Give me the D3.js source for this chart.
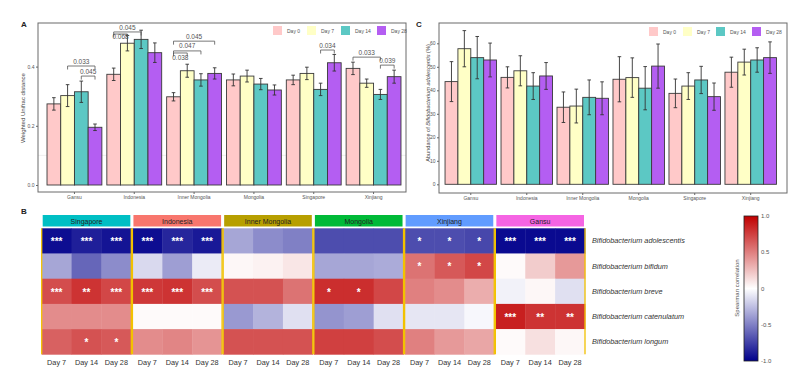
<!DOCTYPE html>
<html><head><meta charset="utf-8">
<script src="https://cdn.jsdelivr.net/npm/d3@7"></script>
<style>
html,body{margin:0;padding:0;background:#fff;}
svg{display:block;font-family:"Liberation Sans",Arial,sans-serif;}
</style></head>
<body><svg id="c" width="802" height="383"></svg>
<script>
// ---------- DATA ----------
const groups = ["Gansu","Indonesia","Inner Mongolia","Mongolia","Singapore","Xinjiang"];
const days = ["Day 0","Day 7","Day 14","Day 28"];
const dayColors = ["#FFC9C9","#FFFFC6","#5CC8C4","#B45EF2"];

// Panel A: weighted UniFrac distance (mean, error) per group x day
const unifracMean = [
  [0.274,0.302,0.315,0.195],
  [0.374,0.479,0.492,0.447],
  [0.298,0.386,0.355,0.377],
  [0.355,0.368,0.341,0.321],
  [0.355,0.377,0.323,0.413],
  [0.394,0.344,0.306,0.366]
];
const unifracErr = [
  [0.021,0.037,0.036,0.011],
  [0.021,0.026,0.031,0.033],
  [0.014,0.022,0.021,0.019],
  [0.020,0.020,0.019,0.017],
  [0.016,0.021,0.021,0.028],
  [0.021,0.014,0.017,0.022]
];
const yTicksA = [0.0,0.2,0.4];

// significance brackets: group, day from, day to, bracket height, label height, p label
const brGroup = ["Gansu","Gansu","Indonesia","Indonesia","Inner Mongolia","Inner Mongolia","Inner Mongolia","Singapore","Xinjiang","Xinjiang"];
const brFrom  = ["Day 7","Day 14","Day 0","Day 0","Day 0","Day 0","Day 0","Day 14","Day 0","Day 14"];
const brTo    = ["Day 28","Day 28","Day 14","Day 7","Day 28","Day 14","Day 7","Day 28","Day 14","Day 28"];
const brY     = [0.402,0.368,0.517,0.510,0.486,0.453,0.446,0.456,0.432,0.405];
const brLabY  = [0.416,0.383,0.532,0.502,0.502,0.470,0.432,0.471,0.449,0.419];
const brLabel = ["0.033","0.045","0.045","0.068","0.045","0.047","0.038","0.034","0.033","0.039"];

// Panel C: abundance of B. adolescentis (%)
const abundMean = [
  [43.7,57.7,53.9,52.9],
  [45.5,48.3,41.8,46.1],
  [32.8,33.3,37.0,36.6],
  [44.7,45.4,40.9,50.3],
  [38.7,41.8,44.4,37.3],
  [47.7,52.0,52.9,53.9]
];
const abundErr = [
  [8.5,7.7,9.0,7.2],
  [4.5,6.4,5.7,5.7],
  [6.5,7.2,7.4,7.0],
  [9.6,8.4,9.2,9.4],
  [6.1,5.7,5.8,5.8],
  [6.4,5.5,5.2,6.7]
];
const yTicksC = [0,10,20,30,40,50,60];

// Panel B: Spearman correlation heatmap
const facets = ["Singapore","Indonesia","Inner Mongolia","Mongolia","Xinjiang","Gansu"];
const facetColors = ["#00BFC4","#F8766D","#B79F00","#00BA38","#619CFF","#F564E3"];
const heatDays = ["Day 7","Day 14","Day 28"];
const species = ["Bifidobacterium adolescentis","Bifidobacterium bifidum","Bifidobacterium breve","Bifidobacterium catenulatum","Bifidobacterium longum"];
// rows = species, columns = facet x day (18)
const corr = [
  [-0.95,-0.88,-0.92, -0.95,-0.85,-0.90, -0.35,-0.45,-0.50, -0.70,-0.70,-0.70, -0.70,-0.70,-0.72, -0.96,-0.96,-0.96],
  [-0.35,-0.60,-0.45, -0.15,-0.38,-0.08,  0.03, 0.05, 0.10, -0.35,-0.35,-0.33,  0.55, 0.65, 0.72,  0.02, 0.20, 0.40],
  [ 0.70, 0.80, 0.72,  0.78, 0.80, 0.70,  0.68, 0.68, 0.55,  0.82, 0.82, 0.72,  0.50, 0.45, 0.32, -0.05, 0.03,-0.12],
  [ 0.45, 0.45, 0.45,  0.02, 0.02, 0.02, -0.40,-0.30,-0.12, -0.42,-0.38,-0.12, -0.10,-0.10,-0.03,  0.88, 0.80, 0.80],
  [ 0.62, 0.68, 0.65,  0.45, 0.48, 0.42,  0.68, 0.68, 0.68,  0.75, 0.75, 0.70,  0.50, 0.40, 0.35,  0.02, 0.12, 0.03]
];
const stars = [
  ["***","***","***", "***","***","***", "","","", "","","", "*","*","*", "***","***","***"],
  ["","","", "","","", "","","", "","","", "*","*","*", "","",""],
  ["***","**","***", "***","***","***", "","","", "*","*","", "","","", "","",""],
  ["","","", "","","", "","","", "","","", "","","", "***","**","**"],
  ["","*","*", "","","", "","","", "","","", "","","", "","",""]
];
const cbTicks = [1,0.5,0,-0.5,-1];
const cbLabels = ["1.0","0.5","0","-0.5","-1.0"];

// ---------- DRAW ----------
const svg = d3.select("#c");
const txtCol = "#555";

function barPanel(opt){
  const g = svg.append("g");
  const x = d3.scaleBand().domain(groups).range(opt.xr).paddingInner(opt.pi).paddingOuter(opt.po);
  const xd = d3.scaleBand().domain(days).range([0, x.bandwidth()]);
  const y = d3.scaleLinear().domain(opt.yd).range(opt.yr);
  // gridline
  if (opt.grid) opt.grid.forEach(v => g.append("line").attr("x1",opt.box[0]).attr("x2",opt.box[0]+opt.box[2])
      .attr("y1",y(v)).attr("y2",y(v)).attr("stroke","#e4e4e4").attr("stroke-width",0.6));
  const recs = [];
  groups.forEach((gr,i)=>days.forEach((d,j)=>recs.push({gr,d,j,m:opt.mean[i][j],e:opt.err[i][j]})));
  g.selectAll("rect.bar").data(recs).join("rect").attr("class","bar")
    .attr("x",r=>x(r.gr)+xd(r.d)).attr("width",xd.bandwidth())
    .attr("y",r=>y(r.m)).attr("height",r=>y(0)-y(r.m))
    .attr("fill",r=>dayColors[r.j]).attr("stroke","#3a3a3a").attr("stroke-width",0.9);
  const eb = g.selectAll("g.eb").data(recs).join("g").attr("class","eb")
    .attr("transform",r=>`translate(${x(r.gr)+xd(r.d)+xd.bandwidth()/2},0)`);
  eb.append("line").attr("y1",r=>y(r.m-r.e)).attr("y2",r=>y(r.m+r.e)).attr("stroke","#333").attr("stroke-width",0.9);
  eb.append("line").attr("x1",-1.8).attr("x2",1.8).attr("y1",r=>y(r.m+r.e)).attr("y2",r=>y(r.m+r.e)).attr("stroke","#333").attr("stroke-width",0.9);
  eb.append("line").attr("x1",-1.8).attr("x2",1.8).attr("y1",r=>y(r.m-r.e)).attr("y2",r=>y(r.m-r.e)).attr("stroke","#333").attr("stroke-width",0.9);
  // box
  const [bx,by,bw,bh] = opt.box;
  g.append("rect").attr("x",bx).attr("y",by).attr("width",bw).attr("height",bh)
    .attr("fill","none").attr("stroke","#6a6a6a").attr("stroke-width",1);
  // axes
  const ay = g.append("g").attr("transform",`translate(${bx},0)`)
    .call(d3.axisLeft(y).tickValues(opt.ticks).tickFormat(opt.fmt).tickSize(2).tickPadding(1.5));
  ay.select(".domain").remove();
  ay.selectAll("line").attr("stroke","#666");
  ay.selectAll("text").attr("font-size",5).attr("fill",txtCol).attr("font-family","Liberation Sans, Arial");
  const ax = g.append("g").attr("transform",`translate(0,${by+bh})`)
    .call(d3.axisBottom(x).tickSize(2).tickPadding(1.5));
  ax.select(".domain").remove();
  ax.selectAll("line").attr("stroke","#666");
  ax.selectAll("text").attr("font-size",5).attr("fill",txtCol).attr("font-family","Liberation Sans, Arial");
  // legend
  days.forEach((d,j)=>{
    const lx = opt.legX[j];
    g.append("rect").attr("x",lx).attr("y",opt.legY).attr("width",9).attr("height",9).attr("fill",dayColors[j]);
    g.append("text").attr("x",lx+14).attr("y",opt.legY+4.5).attr("dominant-baseline","central")
      .attr("font-size",5).attr("fill",txtCol).text(d);
  });
  return {x,xd,y,g};
}

// Panel A
const A = barPanel({xr:[44.5,403.5],pi:0.083,po:0.042,yd:[0,0.4],yr:[185,66.6],grid:[0.1],
  mean:unifracMean,err:unifracErr,box:[38,23,368,169],ticks:yTicksA,fmt:d3.format(".1f"),
  legX:[273,307,341,377],legY:26});
brGroup.forEach((gr,i)=>{
  const x1 = A.x(gr)+A.xd(brFrom[i])+A.xd.bandwidth()/2;
  const x2 = A.x(gr)+A.xd(brTo[i])+A.xd.bandwidth()/2;
  const yl = A.y(brY[i]);
  A.g.append("path").attr("d",`M${x1},${yl+3.5}V${yl}H${x2}V${yl+3.5}`)
    .attr("fill","none").attr("stroke","#555").attr("stroke-width",0.8);
  A.g.append("text").attr("x",(x1+x2)/2).attr("y",A.y(brLabY[i])).attr("dominant-baseline","central")
    .attr("text-anchor","middle").attr("font-size",6.5).attr("fill","#555").text(brLabel[i]);
});
svg.append("text").attr("x",23).attr("y",108).attr("transform","rotate(-90,23,108)")
  .attr("text-anchor","middle").attr("dominant-baseline","central").attr("font-size",6).attr("fill","#444")
  .text("Weighted Unifrac distance");
svg.append("text").attr("x",21).attr("y",27).attr("font-size",8).attr("font-weight","bold").attr("fill","#222").text("A");

// Panel C
const C = barPanel({xr:[442.8,778.7],pi:0.08,po:0.04,yd:[0,60],yr:[184.3,43.3],grid:null,
  mean:abundMean,err:abundErr,box:[439,23,348,170],ticks:yTicksC,fmt:d3.format("d"),
  legX:[649,683,716,752],legY:27});
const yt = svg.append("text").attr("x",428).attr("y",103).attr("transform","rotate(-90,428,103)")
  .attr("text-anchor","middle").attr("dominant-baseline","central").attr("font-size",5.6).attr("fill","#444");
yt.append("tspan").text("Abundance of ");
yt.append("tspan").attr("font-style","italic").text("Bifidobacterium adolescentis");
yt.append("tspan").text(" (%)");
svg.append("text").attr("x",416).attr("y",27).attr("font-size",8).attr("font-weight","bold").attr("fill","#222").text("C");

// Panel B heatmap
svg.append("text").attr("x",21).attr("y",214).attr("font-size",8).attr("font-weight","bold").attr("fill","#222").text("B");
const fx = d3.scaleBand().domain(facets).range([41.7,585]).paddingInner(0.012);
const cx = d3.scaleBand().domain(heatDays).range([0,fx.bandwidth()]);
const ry = d3.scaleBand().domain(species).range([228.3,354.3]);
const col = d3.scaleLinear().domain([-1,0,1]).range(["#00008B","#FFFFFF","#C00000"]).interpolate(d3.interpolateRgb);
const hb = svg.append("g");
const cells = [];
species.forEach((s,i)=>facets.forEach((f,k)=>heatDays.forEach((d,j)=>
  cells.push({s,f,d,k,v:corr[i][k*3+j],st:stars[i][k*3+j]}))));
hb.selectAll("rect.cell").data(cells).join("rect").attr("class","cell")
  .attr("x",c=>fx(c.f)+cx(c.d)).attr("y",c=>ry(c.s)).attr("width",cx.bandwidth()+0.4).attr("height",ry.bandwidth()+0.4)
  .attr("fill",c=>col(c.v));
hb.selectAll("text.st").data(cells.filter(c=>c.st)).join("text").attr("class","st")
  .attr("x",c=>fx(c.f)+cx(c.d)+cx.bandwidth()/2).attr("y",c=>ry(c.s)+ry.bandwidth()/2+4.2)
  .attr("text-anchor","middle").attr("font-size",10).attr("font-weight","bold").attr("fill","#fff").text(c=>c.st);
// facet borders & strips
facets.forEach((f,k)=>{
  const x0 = fx(f), w = fx.bandwidth();
  hb.append("line").attr("x1",x0).attr("x2",x0).attr("y1",ry.range()[0]).attr("y2",ry.range()[1]).attr("stroke","#F2C200").attr("stroke-width",1.3);
  hb.append("line").attr("x1",x0+w).attr("x2",x0+w).attr("y1",ry.range()[0]).attr("y2",ry.range()[1]).attr("stroke","#F2C200").attr("stroke-width",1.3);
  hb.append("rect").attr("x",x0+1).attr("y",215).attr("width",w-2).attr("height",11.5).attr("fill",facetColors[k]);
  hb.append("text").attr("x",x0+w/2).attr("y",221).attr("text-anchor","middle").attr("dominant-baseline","central")
    .attr("font-size",7).attr("fill","#222").text(f);
  heatDays.forEach(d=>hb.append("text").attr("x",x0+cx(d)+cx.bandwidth()/2).attr("y",362)
    .attr("text-anchor","middle").attr("dominant-baseline","central").attr("font-size",7.3).attr("fill","#333").text(d));
});
species.forEach(s=>hb.append("text").attr("x",592).attr("y",ry(s)+ry.bandwidth()/2).attr("dominant-baseline","central")
  .attr("font-size",7.3).attr("font-style","italic").attr("fill","#333").text(s));

// colorbar
const defs = svg.append("defs");
const lg = defs.append("linearGradient").attr("id","cb").attr("x1",0).attr("y1",1).attr("x2",0).attr("y2",0);
d3.range(0,1.0001,0.1).forEach(t=>lg.append("stop").attr("offset",t).attr("stop-color",col(-1+2*t)));
const cbY = d3.scaleLinear().domain([-1,1]).range([361,216]);
svg.append("rect").attr("x",744).attr("y",216).attr("width",14).attr("height",145).attr("fill","url(#cb)")
  .attr("stroke","#222").attr("stroke-width",0.8);
cbTicks.forEach((t,i)=>svg.append("text").attr("x",761).attr("y",cbY(t)).attr("dominant-baseline","central")
  .attr("font-size",6).attr("fill","#555").text(cbLabels[i]));
svg.append("text").attr("x",737).attr("y",288).attr("transform","rotate(-90,737,288)").attr("text-anchor","middle")
  .attr("dominant-baseline","central").attr("font-size",6).attr("fill","#555").text("Spearman correlation");
</script></body></html>
